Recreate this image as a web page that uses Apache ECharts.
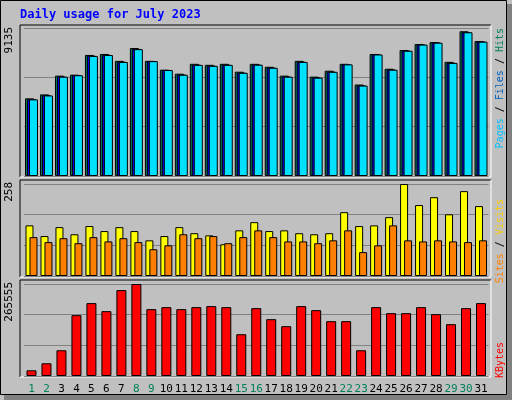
<!DOCTYPE html>
<html><head><meta charset="utf-8">
<script src="https://cdn.jsdelivr.net/npm/echarts@6/dist/echarts.min.js"></script>
<style>html,body{margin:0;padding:0;background:#c0c0c0}#c{width:512px;height:400px}</style>
</head><body><div id="c"></div>
<script>
const days = ['1','2','3','4','5','6','7','8','9','10','11','12','13','14','15','16','17','18','19','20','21','22','23','24','25','26','27','28','29','30','31'];
const weekend = ['1','2','8','9','15','16','22','23','29','30'];
const hits  = [4793,5036,6194,6254,7472,7533,7107,7899,7107,6559,6315,6924,6863,6924,6437,6924,6742,6194,7107,6133,6498,6924,5645,7533,6620,7777,8142,8264,7046,8934,8325];
const files = [4740,4980,6140,6230,7420,7480,7050,7840,7100,6550,6260,6870,6810,6870,6380,6880,6690,6140,7050,6080,6440,6900,5590,7510,6570,7740,8120,8240,6990,8880,8300];
const pages = [4730,4970,6130,6220,7410,7470,7040,7830,7090,6540,6250,6860,6800,6860,6370,6870,6680,6130,7040,6070,6430,6890,5580,7500,6560,7730,8110,8230,6980,8870,8290];
const visits = [142,112,137,117,140,126,137,126,100,112,137,120,114,89,128,151,126,128,120,117,120,179,140,142,165,258,199,221,173,238,196];
const sites  = [109,95,106,92,109,97,106,95,75,86,117,106,112,92,109,128,109,97,97,92,100,128,67,86,142,100,97,100,97,95,100];
const kbytes = [16400,36700,74300,175600,210400,187200,248000,265555,193000,198800,193000,198800,201700,198800,120600,195900,164000,143800,201700,190100,158300,158300,74300,198800,181400,181400,198800,178500,149600,195900,210400];
const maxHits = 9135, maxVisits = 258, maxKb = 265555;

const mono = 'DejaVu Sans Mono';
const chart = echarts.init(document.getElementById('c'));
const L = 24, R = 23.5;
const grids = [
  {left:L,right:R,top:28,bottom:224},
  {left:L,right:R,top:184,bottom:124},
  {left:L,right:R,top:284,bottom:24}
];
function yax(i,max){return {gridIndex:i,min:0,max:max,interval:max/3,axisLabel:{show:false},axisLine:{show:false},axisTick:{show:false},splitLine:{show:true,lineStyle:{color:'#808080',width:1}}};}
function xax(i,show){return {gridIndex:i,type:'category',data:days,axisLine:{show:false},axisTick:{show:false},
  axisLabel:{show:show,margin:8,fontFamily:mono,fontSize:11,interval:0,
    formatter:v=>weekend.includes(v)?'{w|'+v+'}':'{n|'+v+'}',
    rich:{w:{color:'#00805c',fontFamily:mono,fontSize:11},n:{color:'#000',fontFamily:mono,fontSize:11}}}};}
const bs = {borderColor:'#000',borderWidth:1};
function panel(y,h){return [
  {type:'line',shape:{x1:20,y1:y,x2:491,y2:y},style:{stroke:'#000',lineWidth:1}},
  {type:'line',shape:{x1:20,y1:y,x2:20,y2:y+h},style:{stroke:'#000',lineWidth:1}},
  {type:'line',shape:{x1:491,y1:y,x2:491,y2:y+h},style:{stroke:'#fff',lineWidth:1}},
  {type:'line',shape:{x1:20,y1:y+h,x2:491,y2:y+h},style:{stroke:'#fff',lineWidth:1}}];}
const f10 = '10px '+mono;
function vlabel(x,y,rich,text){return {type:'text',x:x,y:y,rotation:Math.PI/2,style:{text:text,rich:rich,font:f10,align:'right',verticalAlign:'middle'}};}
chart.setOption({
  animation:false,
  backgroundColor:'#c0c0c0',
  grid:grids,
  xAxis:[xax(0,false),xax(1,false),xax(2,true)],
  yAxis:[yax(0,maxHits),yax(1,maxVisits),yax(2,maxKb)],
  series:[
    {type:'bar',xAxisIndex:0,yAxisIndex:0,data:hits,barWidth:9,barGap:'-78%',itemStyle:Object.assign({color:'#00805c'},bs)},
    {type:'bar',xAxisIndex:0,yAxisIndex:0,data:files,barWidth:9,barGap:'-78%',itemStyle:Object.assign({color:'#0000ff'},bs)},
    {type:'bar',xAxisIndex:0,yAxisIndex:0,data:pages,barWidth:9,barGap:'-78%',itemStyle:Object.assign({color:'#00e0ff'},bs)},
    {type:'bar',xAxisIndex:1,yAxisIndex:1,data:visits,barWidth:8,barGap:'-50%',itemStyle:Object.assign({color:'#ffff00'},bs)},
    {type:'bar',xAxisIndex:1,yAxisIndex:1,data:sites,barWidth:8,barGap:'-50%',itemStyle:Object.assign({color:'#ff8000'},bs)},
    {type:'bar',xAxisIndex:2,yAxisIndex:2,data:kbytes,barWidth:10,itemStyle:Object.assign({color:'#ff0000'},bs)}
  ],
  graphic:[
    {type:'rect',shape:{x:0.5,y:0.5,width:506,height:394},style:{fill:null,stroke:'#000',lineWidth:1}},
    {type:'rect',shape:{x:507,y:4,width:5,height:396},style:{fill:'#808080'}},
    {type:'rect',shape:{x:4,y:395,width:508,height:5},style:{fill:'#808080'}},
    {type:'text',x:20,y:15,style:{text:'Daily usage for July 2023',font:'bold 12px '+mono,fill:'#0000ff',verticalAlign:'middle'}},
    ...panel(25,152),...panel(180,97),...panel(280,97),
    {type:'text',x:9,y:27,rotation:Math.PI/2,style:{text:String(maxHits),font:'11px '+mono,fill:'#000',align:'right',verticalAlign:'middle'}},
    {type:'text',x:9,y:182,rotation:Math.PI/2,style:{text:String(maxVisits),font:'11px '+mono,fill:'#000',align:'right',verticalAlign:'middle'}},
    {type:'text',x:9,y:282,rotation:Math.PI/2,style:{text:String(maxKb),font:'11px '+mono,fill:'#000',align:'right',verticalAlign:'middle'}},
    vlabel(500,28,{p:{fill:'#00c0ff',font:f10},s:{fill:'#000',font:f10},f:{fill:'#0060c0',font:f10},h:{fill:'#00805c',font:f10}},'{p|Pages}{s| / }{f|Files}{s| / }{h|Hits}'),
    vlabel(500,199,{v:{fill:'#ffd000',font:f10},s:{fill:'#000',font:f10},t:{fill:'#ff8000',font:f10}},'{t|Sites}{s| / }{v|Visits}'),
    vlabel(500,342,{k:{fill:'#ff0000',font:f10}},'{k|KBytes}')
  ]
});
</script></body></html>
